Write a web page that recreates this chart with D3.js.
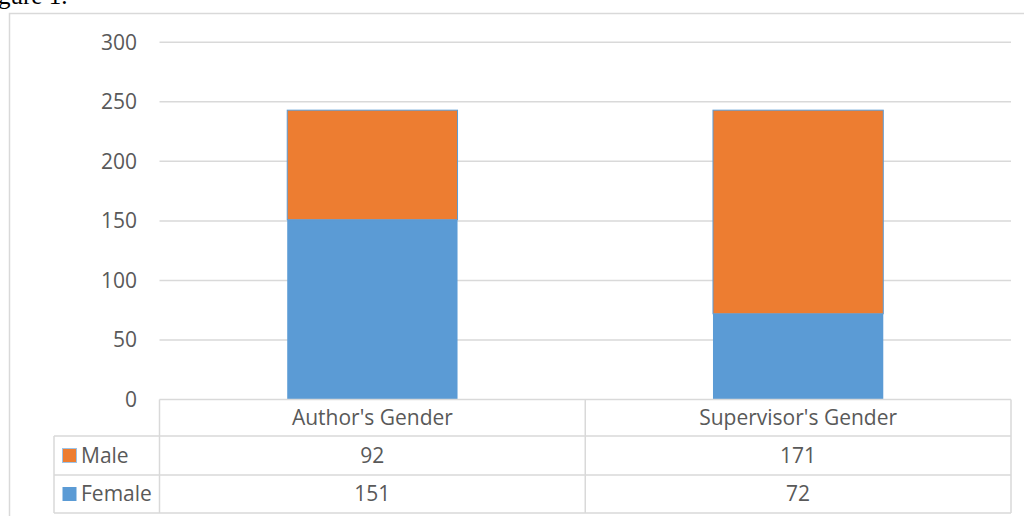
<!DOCTYPE html>
<html>
<head>
<meta charset="utf-8">
<script src="https://cdn.jsdelivr.net/npm/d3@7"></script>
<style>
  body { margin: 0; background: #fff; }
  svg { display: block; }
</style>
</head>
<body>
<svg width="1024" height="516"></svg>
<script>
// -------------------- DATA --------------------
const categories = ["Author's Gender", "Supervisor's Gender"];
const seriesNames = ["Male", "Female"];
const maleValues = [92, 171];
const femaleValues = [151, 72];
const yTicks = [0, 50, 100, 150, 200, 250, 300];

const colors = { Male: "#ed7d31", Female: "#5b9bd5" };
const textColor = "#595959";
const gridColor = "#d9d9d9";
const font = "'Open Sans', sans-serif";

const svg = d3.select("svg");

// caption cut off at the top of the page
svg.append("text")
  .attr("x", -2)
  .attr("y", 4)
  .style("font-family", "'Liberation Serif', serif")
  .style("font-size", "25px")
  .attr("fill", "#000")
  .text("Figure 1.".slice(2));

// outer chart border
svg.append("rect")
  .attr("x", 9.5).attr("y", 13.5)
  .attr("width", 1020).attr("height", 510)
  .attr("fill", "none")
  .attr("stroke", gridColor)
  .attr("stroke-width", 1.5);

// -------------------- SCALES --------------------
const x = d3.scaleBand().domain(categories).range([159.5, 1011]).padding(0);
const y = d3.scaleLinear().domain([0, 300]).range([399.5, 42.3]);
const barW = x.bandwidth() * 0.4;

// gridlines
svg.append("g")
  .selectAll("line")
  .data(yTicks.filter(d => d > 0))
  .enter().append("line")
  .attr("x1", 159.5).attr("x2", 1011)
  .attr("y1", d => y(d)).attr("y2", d => y(d))
  .attr("stroke", gridColor)
  .attr("stroke-width", 1.5);

// y labels
svg.append("g")
  .selectAll("text")
  .data(yTicks)
  .enter().append("text")
  .attr("x", 137)
  .attr("y", d => y(d))
  .attr("dy", "0.35em")
  .attr("text-anchor", "end")
  .style("font-family", font)
  .style("font-size", "21px")
  .attr("fill", textColor)
  .text(d => d);

// -------------------- BARS --------------------
const bars = svg.append("g");
categories.forEach((c, i) => {
  const bx = x(c) + (x.bandwidth() - barW) / 2;
  bars.append("rect")
    .attr("x", bx).attr("width", barW)
    .attr("y", y(femaleValues[i]))
    .attr("height", y(0) - y(femaleValues[i]))
    .attr("fill", colors.Female);
  bars.append("rect")
    .attr("x", bx).attr("width", barW)
    .attr("y", y(femaleValues[i] + maleValues[i]))
    .attr("height", y(femaleValues[i]) - y(femaleValues[i] + maleValues[i]))
    .attr("fill", colors.Male)
    .attr("stroke", colors.Female)
    .attr("stroke-width", 1);
});

// -------------------- DATA TABLE --------------------
const rowY = [399.5, 436, 475, 513];
const legendLeft = 54;
const table = svg.append("g")
  .attr("stroke", gridColor)
  .attr("stroke-width", 1.5)
  .attr("fill", "none");

// horizontal lines
rowY.forEach((ry, i) => {
  table.append("line")
    .attr("x1", i === 0 ? 159.5 : legendLeft).attr("x2", 1011)
    .attr("y1", ry).attr("y2", ry);
});
// vertical lines
table.append("line").attr("x1", legendLeft).attr("x2", legendLeft).attr("y1", rowY[1]).attr("y2", rowY[3]);
[159.5, x(categories[1]), 1011].forEach(vx => {
  table.append("line").attr("x1", vx).attr("x2", vx).attr("y1", rowY[0]).attr("y2", rowY[3]);
});

const txt = svg.append("g")
  .style("font-family", font)
  .style("font-size", "21px")
  .attr("fill", textColor);

// header labels
categories.forEach(c => {
  txt.append("text")
    .attr("x", x(c) + x.bandwidth() / 2)
    .attr("y", (rowY[0] + rowY[1]) / 2)
    .attr("dy", "0.35em")
    .attr("text-anchor", "middle")
    .text(c);
});

// value rows
const rows = [maleValues, femaleValues];
rows.forEach((vals, r) => {
  const cy = (rowY[r + 1] + rowY[r + 2]) / 2;
  vals.forEach((v, i) => {
    txt.append("text")
      .attr("x", x(categories[i]) + x.bandwidth() / 2)
      .attr("y", cy)
      .attr("dy", "0.35em")
      .attr("text-anchor", "middle")
      .text(v);
  });
  // legend key
  const name = seriesNames[r];
  svg.append("rect")
    .attr("x", 62.5).attr("y", cy - 7)
    .attr("width", 14).attr("height", 14)
    .attr("fill", colors[name])
    .attr("stroke", name === "Male" ? "#9dc3e6" : "none")
    .attr("stroke-width", 1);
  txt.append("text")
    .attr("x", 81)
    .attr("y", cy)
    .attr("dy", "0.35em")
    .text(name);
});
</script>
</body>
</html>
